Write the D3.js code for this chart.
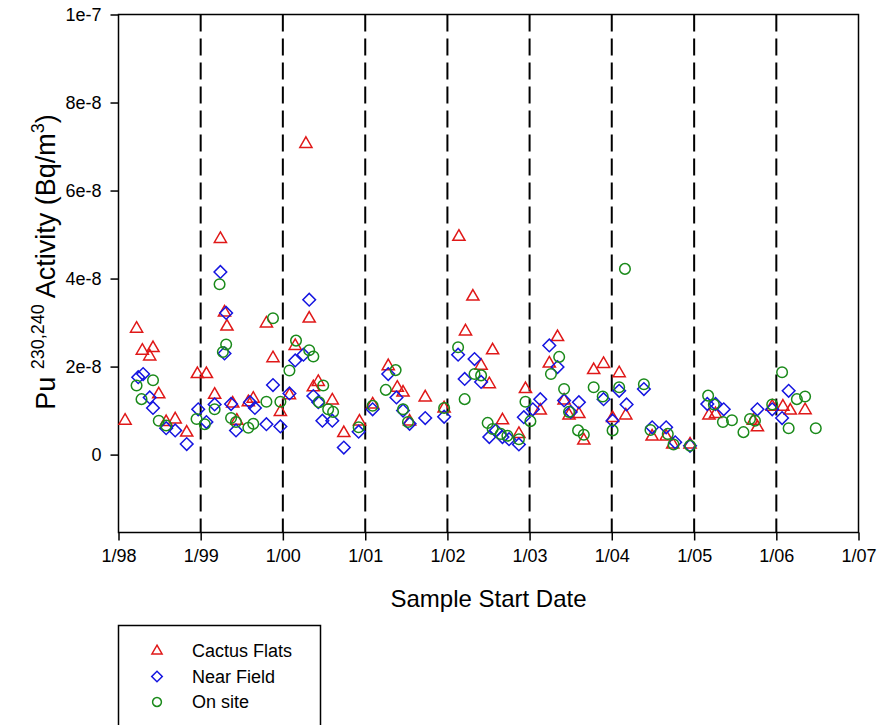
<!DOCTYPE html>
<html><head><meta charset="utf-8">
<script src="https://cdn.jsdelivr.net/npm/d3@7"></script>
<style>body{margin:0;background:#fff}svg{display:block}text{font-family:"Liberation Sans",Arial,sans-serif}</style>
</head><body>
<svg id="c" width="883" height="725"></svg>
<script>
// ---- data (decimal year, Bq/m^3) ----
const seriesNames = ["Cactus Flats", "Near Field", "On site"];
const xTickYears = [1998,1999,2000,2001,2002,2003,2004,2005,2006,2007];
const yTickValues = [0, 2e-8, 4e-8, 6e-8, 8e-8, 1e-7];

const cactusDates = [1998.08,1998.22,1998.29,1998.38,1998.42,1998.49,1998.58,1998.69,1998.83,1998.96,
 1999.07,1999.17,1999.24,1999.29,1999.32,1999.39,1999.44,1999.58,1999.64,1999.80,1999.88,1999.97,
 2000.08,2000.15,2000.28,2000.32,2000.37,2000.43,2000.60,2000.74,2000.93,
 2001.09,2001.28,2001.39,2001.46,2001.54,2001.73,2001.96,
 2002.14,2002.22,2002.31,2002.41,2002.51,2002.55,2002.67,2002.87,2002.95,
 2003.13,2003.24,2003.34,2003.42,2003.48,2003.60,2003.66,2003.78,2003.90,
 2004.01,2004.09,2004.17,2004.49,2004.66,2004.74,2004.95,
 2005.18,2005.26,2005.72,2005.77,2005.95,2006.08,2006.17,2006.35];
const cactusValues = [0.77e-8,2.86e-8,2.36e-8,2.23e-8,2.42e-8,1.37e-8,0.74e-8,0.80e-8,0.50e-8,1.83e-8,
 1.83e-8,1.36e-8,4.90e-8,3.23e-8,2.91e-8,1.16e-8,0.77e-8,1.19e-8,1.27e-8,2.98e-8,2.19e-8,0.97e-8,
 1.35e-8,2.47e-8,7.06e-8,3.09e-8,1.53e-8,1.65e-8,1.23e-8,0.49e-8,0.75e-8,
 1.14e-8,2.01e-8,1.52e-8,1.41e-8,0.75e-8,1.30e-8,1.05e-8,
 4.95e-8,2.80e-8,3.59e-8,2.02e-8,1.60e-8,2.37e-8,0.78e-8,0.47e-8,1.49e-8,
 1.00e-8,2.07e-8,2.67e-8,1.23e-8,0.89e-8,0.92e-8,0.32e-8,1.92e-8,2.06e-8,
 0.83e-8,1.85e-8,0.89e-8,0.41e-8,0.41e-8,0.23e-8,0.23e-8,
 0.89e-8,0.92e-8,0.77e-8,0.62e-8,1.09e-8,1.09e-8,1.00e-8,1.01e-8];

const nearDates = [1998.24,1998.30,1998.38,1998.42,1998.58,1998.69,1998.83,1998.97,
 1999.07,1999.17,1999.24,1999.31,1999.29,1999.37,1999.43,1999.60,1999.66,1999.80,1999.88,1999.97,
 2000.08,2000.15,2000.25,2000.32,2000.37,2000.43,2000.48,2000.60,2000.74,2000.92,
 2001.09,2001.28,2001.38,2001.46,2001.54,2001.73,2001.96,
 2002.13,2002.33,2002.21,2002.41,2002.51,2002.59,2002.67,2002.75,2002.87,2002.93,
 2003.04,2003.13,2003.24,2003.34,2003.42,2003.50,2003.60,2003.90,
 2004.01,2004.09,2004.18,2004.39,2004.49,2004.66,2004.77,2004.95,
 2005.16,2005.26,2005.36,2005.77,2005.95,2006.07,2006.15];
const nearValues = [1.76e-8,1.83e-8,1.30e-8,1.06e-8,0.60e-8,0.55e-8,0.24e-8,1.03e-8,
 0.74e-8,1.14e-8,4.15e-8,3.22e-8,2.30e-8,1.15e-8,0.55e-8,1.19e-8,1.06e-8,0.69e-8,1.58e-8,0.64e-8,
 1.39e-8,2.14e-8,2.27e-8,3.52e-8,1.33e-8,1.19e-8,0.77e-8,0.77e-8,0.16e-8,0.52e-8,
 1.03e-8,1.83e-8,1.30e-8,1.00e-8,0.70e-8,0.83e-8,0.86e-8,
 2.27e-8,2.17e-8,1.72e-8,1.65e-8,0.40e-8,0.55e-8,0.40e-8,0.35e-8,0.23e-8,0.85e-8,
 1.03e-8,1.26e-8,2.48e-8,1.99e-8,1.23e-8,0.97e-8,1.19e-8,1.26e-8,
 0.77e-8,1.45e-8,1.14e-8,1.49e-8,0.62e-8,0.62e-8,0.28e-8,0.20e-8,
 1.15e-8,1.15e-8,1.03e-8,1.03e-8,1.03e-8,0.83e-8,1.45e-8];

const onsiteDates = [1998.22,1998.28,1998.42,1998.49,1998.58,1998.95,
 1999.05,1999.17,1999.23,1999.31,1999.27,1999.37,1999.43,1999.58,1999.64,1999.80,1999.88,1999.97,
 2000.08,2000.16,2000.32,2000.37,2000.49,2000.44,2000.55,2000.61,2000.92,
 2001.09,2001.25,2001.37,2001.46,2001.52,2001.96,
 2002.13,2002.21,2002.33,2002.41,2002.49,2002.55,2002.65,2002.73,2002.87,2002.95,
 2003.01,2003.26,2003.36,2003.42,2003.48,2003.59,2003.66,2003.78,2003.89,
 2004.01,2004.09,2004.16,2004.39,2004.47,2004.68,2004.75,2004.95,
 2005.17,2005.24,2005.35,2005.46,2005.60,2005.68,2005.74,2005.95,
 2006.07,2006.15,2006.25,2006.35,2006.48];
const onsiteValues = [1.57e-8,1.26e-8,1.69e-8,0.77e-8,0.66e-8,0.81e-8,
 0.69e-8,1.03e-8,3.87e-8,2.50e-8,2.33e-8,0.83e-8,0.74e-8,0.61e-8,0.70e-8,1.20e-8,3.10e-8,1.20e-8,
 1.91e-8,2.59e-8,2.37e-8,2.23e-8,1.57e-8,1.19e-8,1.03e-8,0.97e-8,0.62e-8,
 1.11e-8,1.47e-8,1.92e-8,1.03e-8,0.74e-8,1.06e-8,
 2.44e-8,1.26e-8,1.83e-8,1.80e-8,0.72e-8,0.58e-8,0.47e-8,0.43e-8,0.35e-8,1.20e-8,
 0.76e-8,1.83e-8,2.22e-8,1.49e-8,0.97e-8,0.55e-8,0.45e-8,1.53e-8,1.32e-8,
 0.55e-8,1.53e-8,4.22e-8,1.60e-8,0.56e-8,0.47e-8,0.23e-8,0.20e-8,
 1.34e-8,1.14e-8,0.74e-8,0.78e-8,0.51e-8,0.81e-8,0.77e-8,1.14e-8,
 1.87e-8,0.60e-8,1.26e-8,1.32e-8,0.60e-8];

// ---- helpers ----
function toDate(dec){const y=Math.floor(dec);const s=new Date(y,0,1),e=new Date(y+1,0,1);return new Date(+s+(dec-y)*(e-s));}
function zip(ds,vs){return ds.map((d,i)=>({date:toDate(d),value:vs[i]}));}

const svg = d3.select("#c");
const L=118.5, R=858.5, T=14.5, B=532.5;
const x = d3.scaleTime().domain([new Date(1998,0,1), new Date(2007,0,1)]).range([L,R]);
const y = d3.scaleLinear().domain([-1.77e-8, 1e-7]).range([B,T]);

const colors = ["#e01818","#1515e0","#1a8a1a"];
const symbols = [d3.symbolTriangle, d3.symbolSquare, d3.symbolCircle];
const sizes = [64, 80, 88];
const rot = [0, 45, 0];

// dashed year lines
svg.append("g").selectAll("line").data(xTickYears.slice(1,-1)).join("line")
  .attr("x1",d=>x(new Date(d,0,1))).attr("x2",d=>x(new Date(d,0,1)))
  .attr("y1",T).attr("y2",B)
  .attr("stroke","#000").attr("stroke-width",2).attr("stroke-dasharray","17,7");

// frame
svg.append("rect").attr("x",L).attr("y",T).attr("width",R-L).attr("height",B-T)
  .attr("fill","none").attr("stroke","#000").attr("stroke-width",1.5);

// axes
const xAxis = d3.axisBottom(x).tickValues(xTickYears.map(yy=>new Date(yy,0,1)))
  .tickFormat(d3.timeFormat("%-m/%y")).tickSize(8).tickSizeOuter(0).tickPadding(9);
const gx = svg.append("g").attr("transform",`translate(0,${B})`).call(xAxis);
const yAxis = d3.axisLeft(y).tickValues(yTickValues)
  .tickFormat(v=>v===0?"0":v.toExponential().replace("+","")).tickSize(8).tickSizeOuter(0).tickPadding(9);
const gy = svg.append("g").attr("transform",`translate(${L},0)`).call(yAxis);
[gx,gy].forEach(g=>{g.select(".domain").remove();
  g.selectAll(".tick line").attr("stroke","#000").attr("stroke-width",1.5);
  g.selectAll(".tick text").attr("fill","#000").style("font-size","18px").style("font-family","Liberation Sans, Arial, sans-serif");});

// axis titles
svg.append("text").attr("x",(L+R)/2).attr("y",607).attr("text-anchor","middle")
  .style("font-size","24px").text("Sample Start Date");
const yt = svg.append("text").attr("transform","translate(55,262) rotate(-90)").attr("text-anchor","middle")
  .style("font-size","27px");
yt.append("tspan").text("Pu ");
yt.append("tspan").attr("dy",-11).style("font-size","18px").text("230,240");
yt.append("tspan").attr("dy",11).text(" Activity (Bq/m");
yt.append("tspan").attr("dy",-11).style("font-size","18px").text("3");
yt.append("tspan").attr("dy",11).text(")");

// points
const allData = [zip(cactusDates,cactusValues), zip(nearDates,nearValues), zip(onsiteDates,onsiteValues)];
allData.forEach((data,si)=>{
  const sym = d3.symbol().type(symbols[si]).size(sizes[si]);
  svg.append("g").selectAll("path").data(data).join("path")
    .attr("d",sym).attr("transform",d=>`translate(${x(d.date)},${y(d.value)}) rotate(${rot[si]})`)
    .attr("fill","none").attr("stroke",colors[si]).attr("stroke-width",1.5);
});

// legend
const lg = svg.append("g");
lg.append("rect").attr("x",118.5).attr("y",625.5).attr("width",202).attr("height",120)
  .attr("fill","#fff").attr("stroke","#000").attr("stroke-width",1.5);
seriesNames.forEach((n,i)=>{
  const yy = 651 + i*25.5;
  lg.append("path").attr("d",d3.symbol().type(symbols[i]).size(sizes[i]*0.7)())
    .attr("transform",`translate(157,${yy}) rotate(${rot[i]})`).attr("fill","none").attr("stroke",colors[i]).attr("stroke-width",1.5);
  lg.append("text").attr("x",192).attr("y",yy).attr("dy","0.35em").style("font-size","18px").text(n);
});
</script>
</body></html>
